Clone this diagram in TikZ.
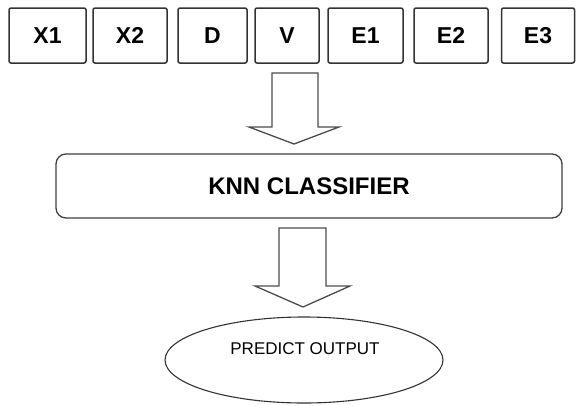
\documentclass[tikz,border=0pt]{standalone}
\usepackage{fontspec}
\setmainfont{Liberation Sans}
\usetikzlibrary{shapes.geometric}
\begin{document}
\begin{tikzpicture}[x=1pt,y=-1pt,
  inbox/.style={draw=black!80, line width=1.5pt, rounded corners=2pt, minimum height=55pt, inner sep=0pt, font=\fontsize{23}{23}\selectfont\bfseries},
  classbox/.style={draw=black!75, line width=1.3pt, rounded corners=10pt, minimum width=506pt, minimum height=64pt, inner sep=0pt, font=\fontsize{24}{24}\selectfont\bfseries},
  outell/.style={ellipse, draw=black!80, line width=1.1pt, minimum width=278pt, minimum height=86pt, inner sep=0pt},
  outtext/.style={inner sep=0pt, font=\fontsize{17}{17}\selectfont},
  blockarrow/.style={draw=black!70, line width=1.3pt, fill=white, line join=miter},
  ]
\useasboundingbox[fill=white] (0,0) rectangle (576,405);
% input feature boxes
\node[inbox, minimum width=77pt] (x1) at (47.5,35.5) {X1};
\node[inbox, minimum width=74pt] (x2) at (130,35.5) {X2};
\node[inbox, minimum width=69pt] (d) at (212.5,35.5) {D};
\node[inbox, minimum width=64pt] (v) at (287,35.5) {V};
\node[inbox, minimum width=75pt] (e1) at (365.5,35.5) {E1};
\node[inbox, minimum width=74pt] (e2) at (451,35.5) {E2};
\node[inbox, minimum width=73pt] (e3) at (538,35.5) {E3};
% classifier
\node[classbox] (knn) at (309,186) {KNN CLASSIFIER};
% output
\node[outell] (out) at (304,360) {};
\node[outtext] (outlabel) at (305,349) {PREDICT OUTPUT};
% block arrows
\draw[blockarrow] (272,73) -- (318,73) -- (318,127) -- (339,127) -- (294,144) -- (249,127) -- (272,127) -- cycle;
\draw[blockarrow] (279,228) -- (326,228) -- (326,286) -- (350,286) -- (303,307) -- (255,286) -- (279,286) -- cycle;
\end{tikzpicture}
\end{document}
